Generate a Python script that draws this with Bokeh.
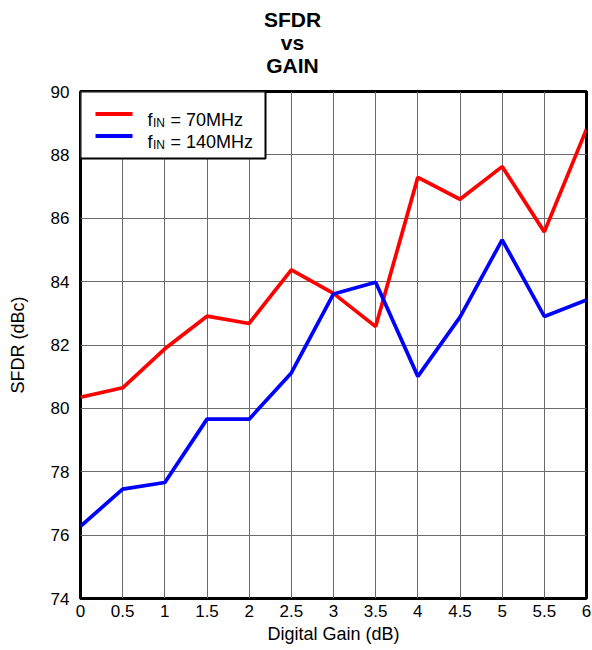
from bokeh.plotting import figure
from bokeh.models import FixedTicker, Label, BoxAnnotation, Range1d, Title
from bokeh.embed import file_html
from bokeh.resources import INLINE

# Digital gain setting (dB) and measured SFDR (dBc) for two input frequencies
GAIN_DB = [0, 0.5, 1, 1.5, 2, 2.5, 3, 3.5, 4, 4.5, 5, 5.5, 6]
SFDR_70MHZ = [80.35, 80.65, 81.88, 82.91, 82.68, 84.37, 83.63, 82.58, 87.29, 86.60, 87.63, 85.57, 88.81]
SFDR_140MHZ = [76.28, 77.45, 77.66, 79.66, 79.66, 81.12, 83.61, 83.98, 81.01, 82.88, 85.32, 82.90, 83.42]

X_TICKS = [0, 0.5, 1, 1.5, 2, 2.5, 3, 3.5, 4, 4.5, 5, 5.5, 6]
X_TICK_LABELS = ["0", "0.5", "1", "1.5", "2", "2.5", "3", "3.5", "4", "4.5", "5", "5.5", "6"]
Y_TICKS = [74, 76, 78, 80, 82, 84, 86, 88, 90]

TITLE_LINES = ["SFDR", "vs", "GAIN"]
SERIES_FREQS = ["70MHz", "140MHz"]
SERIES_COLORS = ["#ff0000", "#0000ff"]

FONT = "Liberation Sans"

W, H = 592, 650
LEFT, RIGHT, TOP, BOTTOM = 80, 6, 91, 52
FRAME_W = W - LEFT - RIGHT
FRAME_H = H - TOP - BOTTOM

p = figure(
    width=W, height=H, title=None,
    output_backend="svg", toolbar_location=None,
    x_range=Range1d(X_TICKS[0], X_TICKS[-1]),
    y_range=Range1d(Y_TICKS[0], Y_TICKS[-1]),
    min_border_left=LEFT, min_border_right=RIGHT,
    min_border_top=TOP, min_border_bottom=BOTTOM,
    x_axis_label="Digital Gain (dB)", y_axis_label="SFDR (dBc)",
)
p.background_fill_color = "white"
p.border_fill_color = "white"
p.outline_line_color = "black"
p.outline_line_width = 3

# Axes
p.xaxis.ticker = FixedTicker(ticks=X_TICKS)
p.xaxis.major_label_overrides = {
    (int(t) if float(t).is_integer() else t): lab for t, lab in zip(X_TICKS, X_TICK_LABELS)
}
p.yaxis.ticker = FixedTicker(ticks=Y_TICKS)
for ax in (p.xaxis, p.yaxis):
    ax.axis_line_color = None
    ax.major_tick_line_color = None
    ax.minor_tick_line_color = None
    ax.major_tick_in = 0
    ax.major_tick_out = 0
    ax.major_label_text_font = FONT
    ax.major_label_text_font_size = "17px"
    ax.major_label_text_color = "black"
    ax.axis_label_text_font = FONT
    ax.axis_label_text_font_size = "18px"
    ax.axis_label_text_font_style = "normal"
    ax.axis_label_text_color = "black"
p.xaxis.major_label_standoff = 6
p.xaxis.axis_label_standoff = 4
p.yaxis.major_label_standoff = 11
p.yaxis.axis_label_standoff = 20

# Grid
p.xgrid.ticker = FixedTicker(ticks=X_TICKS)
p.ygrid.ticker = FixedTicker(ticks=Y_TICKS)
for g in (p.xgrid, p.ygrid):
    g.grid_line_color = "#6a6a6a"
    g.grid_line_width = 1
    g.grid_line_alpha = 1

# Data lines
p.line(GAIN_DB, SFDR_70MHZ, line_color=SERIES_COLORS[0], line_width=3.7)
p.line(GAIN_DB, SFDR_140MHZ, line_color=SERIES_COLORS[1], line_width=3.7)

# Small spacer between the frame and the stacked title lines
p.add_layout(Title(text=" ", text_font_size="2px", standoff=12), "above")

# Three-line bold title, stacked above the frame (first added sits lowest).
# Left-aligned with offsets so each line is centred on x = 292 of the canvas.
BOLD_EM = {"SFDR": 2.722, "vs": 1.112, "GAIN": 2.5}
TITLE_PX = 21
TITLE_CX = 292
for text in reversed(TITLE_LINES):
    text_w = BOLD_EM[text] * TITLE_PX
    p.add_layout(Title(
        text=text, align="left", offset=TITLE_CX - LEFT - text_w / 2,
        text_font=FONT, text_font_size=f"{TITLE_PX}px", text_font_style="bold",
        text_color="black", standoff=-2,
    ), "above")

# Legend box in the upper-left corner of the frame
p.add_layout(BoxAnnotation(
    left=0, right=185, top=FRAME_H, bottom=FRAME_H - 67,
    left_units="screen", right_units="screen", top_units="screen", bottom_units="screen",
    fill_color="white", fill_alpha=1.0, line_color="black", line_alpha=1.0, line_width=2,
    level="overlay",
))
row_centers = [22.5, 44.5]
for freq, color, rc in zip(SERIES_FREQS, SERIES_COLORS, row_centers):
    yc = FRAME_H - rc
    p.add_layout(BoxAnnotation(
        left=15, right=52, top=yc + 2, bottom=yc - 2,
        left_units="screen", right_units="screen", top_units="screen", bottom_units="screen",
        fill_color=color, fill_alpha=1.0, line_color=None, level="overlay",
    ))
    base = yc - 6
    p.add_layout(Label(
        x=67, y=base, x_units="screen", y_units="screen", text="f",
        text_baseline="alphabetic", text_font=FONT, text_font_size="18px",
        text_color="black", level="overlay",
    ))
    p.add_layout(Label(
        x=72.5, y=base - 2.5, x_units="screen", y_units="screen", text="IN",
        text_baseline="alphabetic", text_font=FONT, text_font_size="12px",
        text_color="black", level="overlay",
    ))
    p.add_layout(Label(
        x=90, y=base, x_units="screen", y_units="screen", text="= " + freq,
        text_baseline="alphabetic", text_font=FONT, text_font_size="18px",
        text_color="black", level="overlay",
    ))

open("out.html", "w").write(file_html(p, INLINE))
